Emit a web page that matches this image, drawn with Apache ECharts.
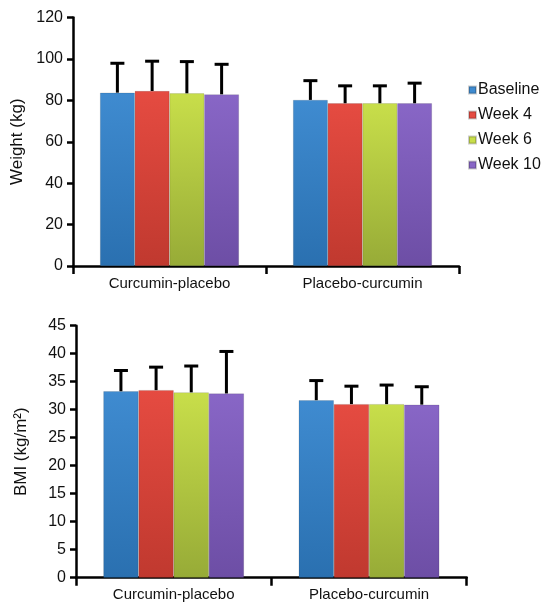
<!DOCTYPE html>
<html>
<head>
<meta charset="utf-8">
<script src="https://cdn.jsdelivr.net/npm/echarts@6/dist/echarts.min.js"></script>
<style>
  html, body { margin: 0; padding: 0; background: #fff; }
  #chart { width: 543px; height: 604px; }
</style>
</head>
<body>
<div id="chart"></div>
<script>
var groups = ['Curcumin-placebo', 'Placebo-curcumin']
var periods = ['Baseline', 'Week 4', 'Week 6', 'Week 10']

// one row per period: [Curcumin-placebo, Placebo-curcumin]
var weightMean = [[83.7, 80.2], [84.5, 78.6], [83.4, 78.6], [82.9, 78.6]]
var weightUpper = [[97.9, 89.5], [98.9, 87.0], [98.7, 87.0], [97.4, 88.3]]
var bmiMean = [[33.3, 31.7], [33.5, 31.0], [33.1, 31.0], [32.9, 30.9]]
var bmiUpper = [[37.0, 35.2], [37.6, 34.2], [37.8, 34.4], [40.4, 34.1]]

var weightTicks = [0, 120, 20]
var bmiTicks = [0, 45, 5]

var font = 'Liberation Sans, Arial, sans-serif'
var gap = 0.28
var myColor = [
  ['#3f8bd0', '#2a70b0'],
  ['#e54b41', '#c0392f'],
  ['#c8de4a', '#97ab37'],
  ['#8866c6', '#6d4ea5']
]

function fill(i) {
  return new echarts.graphic.LinearGradient(0, 0, 0, 1, [
    { offset: 0, color: myColor[i][0] },
    { offset: 1, color: myColor[i][1] }
  ])
}

function errorBar(idx) {
  return function(params, api) {
    var band = api.size([1, 0])[0]
    var groupW = band * (1 - gap)
    var barW = groupW / periods.length
    var off = -groupW / 2 + (idx + 0.5) * barW
    var base = api.coord([api.value(0), api.value(1)])
    var top = api.coord([api.value(0), api.value(2)])
    var x = base[0] + off
    var st = { stroke: '#000', lineWidth: 3 }
    return {
      type: 'group',
      children: [
        { type: 'line', shape: { x1: x, y1: base[1], x2: x, y2: top[1] }, style: st },
        { type: 'line', shape: { x1: x - 7, y1: top[1], x2: x + 7, y2: top[1] }, style: st }
      ]
    }
  }
}

function xAxis(grid) {
  return {
    type: 'category',
    gridIndex: grid,
    data: groups,
    axisLine: { show: true, lineStyle: { color: '#000', width: 2.5 } },
    axisTick: { show: true, alignWithLabel: false, interval: 0, length: 8, lineStyle: { color: '#000', width: 2.5 } },
    axisLabel: { color: '#111', fontSize: 15, fontFamily: font, margin: 10 }
  }
}

function yAxis(grid, name, ticks) {
  return {
    type: 'value',
    gridIndex: grid,
    min: ticks[0],
    max: ticks[1],
    interval: ticks[2],
    name: name,
    nameLocation: 'middle',
    nameGap: 46,
    nameTextStyle: { color: '#111', fontSize: 17, fontFamily: font },
    axisLine: { show: true, lineStyle: { color: '#000', width: 2.5 } },
    axisTick: { show: true, length: 6, lineStyle: { color: '#000', width: 2.5 } },
    axisLabel: { color: '#111', fontSize: 16, fontFamily: font, margin: 10 },
    splitLine: { show: false }
  }
}

var series = []
;[[weightMean, weightUpper], [bmiMean, bmiUpper]].forEach(function(set, g) {
  periods.forEach(function(p, i) {
    series.push({
      name: p,
      type: 'bar',
      xAxisIndex: g,
      yAxisIndex: g,
      barGap: 0,
      barCategoryGap: (gap * 100) + '%',
      itemStyle: { color: fill(i), borderColor: 'rgba(0,0,0,0.2)', borderWidth: 0.6 },
      data: set[0][i]
    })
  })
  periods.forEach(function(p, i) {
    series.push({
      type: 'custom',
      xAxisIndex: g,
      yAxisIndex: g,
      z: 5,
      renderItem: errorBar(i),
      encode: { x: 0, y: [1, 2] },
      data: groups.map(function(c, k) { return [k, set[0][i][k], set[1][i][k]] })
    })
  })
})

var chart = echarts.init(document.getElementById('chart'))
chart.setOption({
  animation: false,
  textStyle: { fontFamily: font },
  legend: {
    data: periods.map(function(p, i) { return { name: p, itemStyle: { color: myColor[i][0] } } }),
    orient: 'vertical',
    left: 468,
    top: 82,
    padding: 0,
    itemWidth: 7,
    itemHeight: 7,
    itemGap: 9,
    icon: 'rect',
    textStyle: { color: '#111', fontSize: 16, fontFamily: font, padding: [0, 0, 0, -3] }
  },
  grid: [
    { left: 73, width: 386, top: 17.5, height: 248.5 },
    { left: 76, width: 390.7, top: 325.7, height: 252 }
  ],
  xAxis: [xAxis(0), xAxis(1)],
  yAxis: [yAxis(0, 'Weight (kg)', weightTicks), yAxis(1, 'BMI (kg/m²)', bmiTicks)],
  series: series
})
</script>
</body>
</html>
